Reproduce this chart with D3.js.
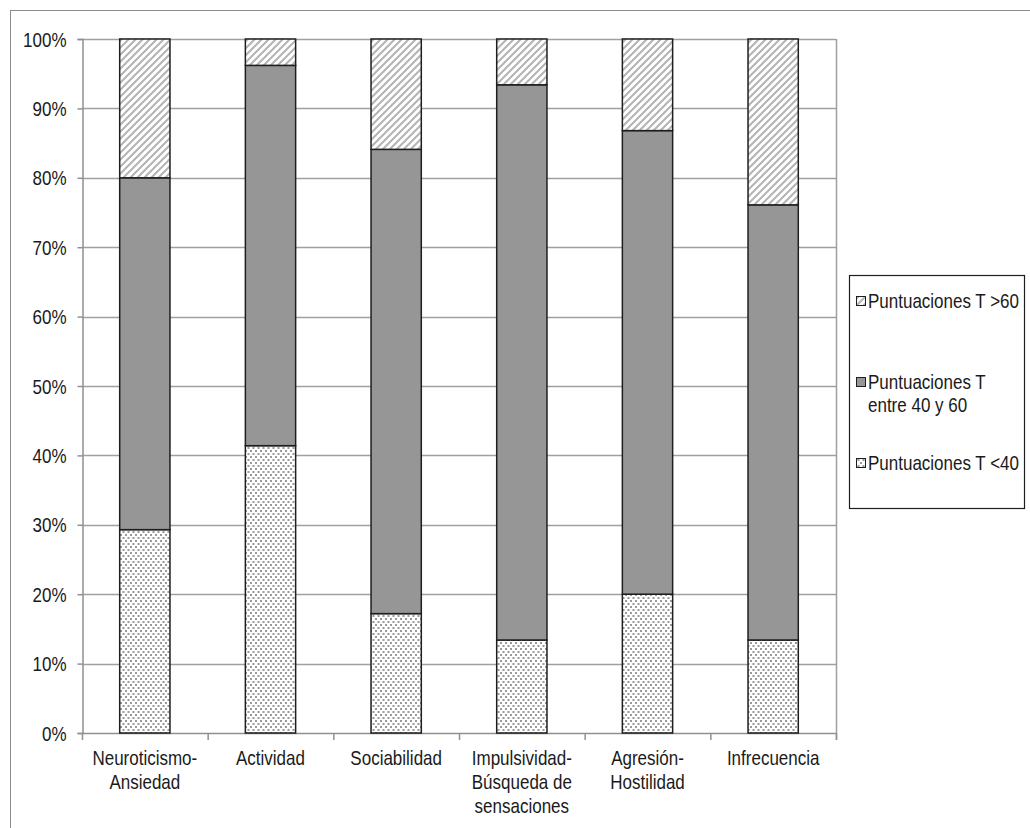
<!DOCTYPE html>
<html>
<head>
<meta charset="utf-8">
<script src="https://cdn.jsdelivr.net/npm/d3@7"></script>
<style>
  html, body { margin: 0; padding: 0; background: #fff; }
  svg { display: block; }
  text { font-family: "Liberation Sans", Arial, sans-serif; fill: #1a1a1a; }
</style>
</head>
<body>
<script>
// ---- data ----
const categories = ["Neuroticismo-\nAnsiedad", "Actividad", "Sociabilidad", "Impulsividad-\nBúsqueda de\nsensaciones", "Agresión-\nHostilidad", "Infrecuencia"];
const seriesNames = ["Puntuaciones T <40", "Puntuaciones T\nentre 40 y 60", "Puntuaciones T >60"];
const lowValues  = [29.3, 41.4, 17.2, 13.4, 20.0, 13.4];
const midValues  = [50.7, 54.8, 66.9, 80.0, 66.8, 62.7];
const highValues = [20.0,  3.8, 15.9,  6.6, 13.2, 23.9];
const yTicks = [0, 10, 20, 30, 40, 50, 60, 70, 80, 90, 100];

(function () {
const W = 1030, H = 828;
const FS = 20, SX = 0.85; // font size and horizontal condensation (Arial Narrow look)
const svg = d3.select("body").append("svg").attr("width", W).attr("height", H);

// patterns
const defs = svg.append("defs");
const pHigh = defs.append("pattern").attr("id", "pHigh").attr("patternUnits", "userSpaceOnUse")
  .attr("width", 7).attr("height", 7);
pHigh.append("rect").attr("width", 7).attr("height", 7).attr("fill", "#fff");
pHigh.append("path").attr("d", "M-1,8 L8,-1 M-4.5,4.5 L4.5,-4.5 M2.5,11.5 L11.5,2.5")
  .attr("stroke", "#b4b4b4").attr("stroke-width", 2);
const pLow = defs.append("pattern").attr("id", "pLow").attr("patternUnits", "userSpaceOnUse")
  .attr("width", 5).attr("height", 6);
pLow.append("rect").attr("width", 5).attr("height", 6).attr("fill", "#fff");
pLow.append("rect").attr("x", 0).attr("y", 0).attr("width", 2).attr("height", 2).attr("fill", "#9a9a9a");
pLow.append("rect").attr("x", 2.5).attr("y", 3).attr("width", 2).attr("height", 2).attr("fill", "#9a9a9a");

const fills = ["url(#pLow)", "#969696", "url(#pHigh)"];

// helper: condensed multi-line text
function narrowText(parent, x, y, lines, anchor, lineH) {
  const t = parent.append("text")
    .attr("transform", `translate(${x},${y}) scale(${SX},1)`)
    .attr("text-anchor", anchor).attr("font-size", FS);
  lines.forEach((line, j) => {
    t.append("tspan").attr("x", 0).attr("dy", j === 0 ? 0 : lineH).text(line);
  });
  return t;
}

// outer chart border
svg.append("rect").attr("x", 10.5).attr("y", 10.5).attr("width", W + 20).attr("height", H + 20)
  .attr("fill", "none").attr("stroke", "#8c8c8c").attr("stroke-width", 1);

const pL = 82, pR = 836, pT = 39, pB = 733;

const x = d3.scaleBand().domain(d3.range(categories.length)).range([pL, pR])
  .paddingInner(0.6).paddingOuter(0.3);
const xb = d3.scaleBand().domain(d3.range(categories.length)).range([pL, pR]);
const y = d3.scaleLinear().domain([0, 100]).range([pB, pT]);

// gridlines
svg.append("g").selectAll("line").data(yTicks.filter(d => d > 0)).join("line")
  .attr("x1", pL).attr("x2", pR)
  .attr("y1", d => Math.round(y(d)) + 0.5).attr("y2", d => Math.round(y(d)) + 0.5)
  .attr("stroke", "#a0a0a0").attr("stroke-width", 1.5);

// right border of plot area
svg.append("line").attr("x1", pR + 0.5).attr("x2", pR + 0.5).attr("y1", pT).attr("y2", pB + 7)
  .attr("stroke", "#a0a0a0").attr("stroke-width", 1.5);

// y axis
const yAxis = d3.axisLeft(y).tickValues(yTicks).tickFormat(d => d + "%").tickSize(5).tickPadding(11);
const gy = svg.append("g").attr("transform", `translate(${pL + 0.5},0)`).call(yAxis);
gy.select(".domain").attr("stroke", "#909090").attr("stroke-width", 1.5);
gy.selectAll(".tick line").attr("stroke", "#909090").attr("stroke-width", 1.5);
gy.selectAll(".tick text")
  .attr("font-size", FS).attr("fill", "#1a1a1a")
  .attr("x", 0).attr("dy", "0.35em")
  .attr("transform", `translate(-16,0) scale(${SX},1)`)
  .style("font-family", '"Liberation Sans", Arial, sans-serif');

// x axis line + boundary ticks
svg.append("line").attr("x1", pL).attr("x2", pR).attr("y1", pB + 0.5).attr("y2", pB + 0.5)
  .attr("stroke", "#909090").attr("stroke-width", 1.5);
const bounds = d3.range(categories.length + 1).map(i => i < categories.length ? xb(i) : pR);
svg.append("g").selectAll("line").data(bounds).join("line")
  .attr("x1", d => d + 0.5).attr("x2", d => d + 0.5).attr("y1", pB).attr("y2", pB + 7)
  .attr("stroke", "#909090").attr("stroke-width", 1.5);

// stacked data
const rows = categories.map((c, i) => ({ i, low: lowValues[i], mid: midValues[i], high: highValues[i] }));
const stacked = d3.stack().keys(["low", "mid", "high"])(rows);

svg.append("g").selectAll("g").data(stacked).join("g")
  .attr("fill", (d, k) => fills[k])
  .selectAll("rect").data(d => d).join("rect")
  .attr("x", d => x(d.data.i))
  .attr("width", x.bandwidth())
  .attr("y", d => y(d[1]))
  .attr("height", d => y(d[0]) - y(d[1]))
  .attr("stroke", "#1e1e1e").attr("stroke-width", 1.5);

// category labels
const xl = svg.append("g");
categories.forEach((c, i) => {
  narrowText(xl, xb(i) + xb.bandwidth() / 2, 765, c.split("\n"), "middle", 24);
});

// legend
const lg = svg.append("g");
lg.append("rect").attr("x", 849.5).attr("y", 275.5).attr("width", 175).attr("height", 233)
  .attr("fill", "#fff").attr("stroke", "#1e1e1e").attr("stroke-width", 1.2);
const legendOrder = [2, 1, 0];
const legendY = [308, 389, 470];
legendOrder.forEach((k, j) => {
  const by = legendY[j];
  lg.append("rect").attr("x", 856.5).attr("y", by - 11.5).attr("width", 9).attr("height", 9)
    .attr("fill", fills[k]).attr("stroke", "#1e1e1e").attr("stroke-width", 1);
  narrowText(lg, 868, by, seriesNames[k].split("\n"), "start", 23);
});
})();
</script>
</body>
</html>
